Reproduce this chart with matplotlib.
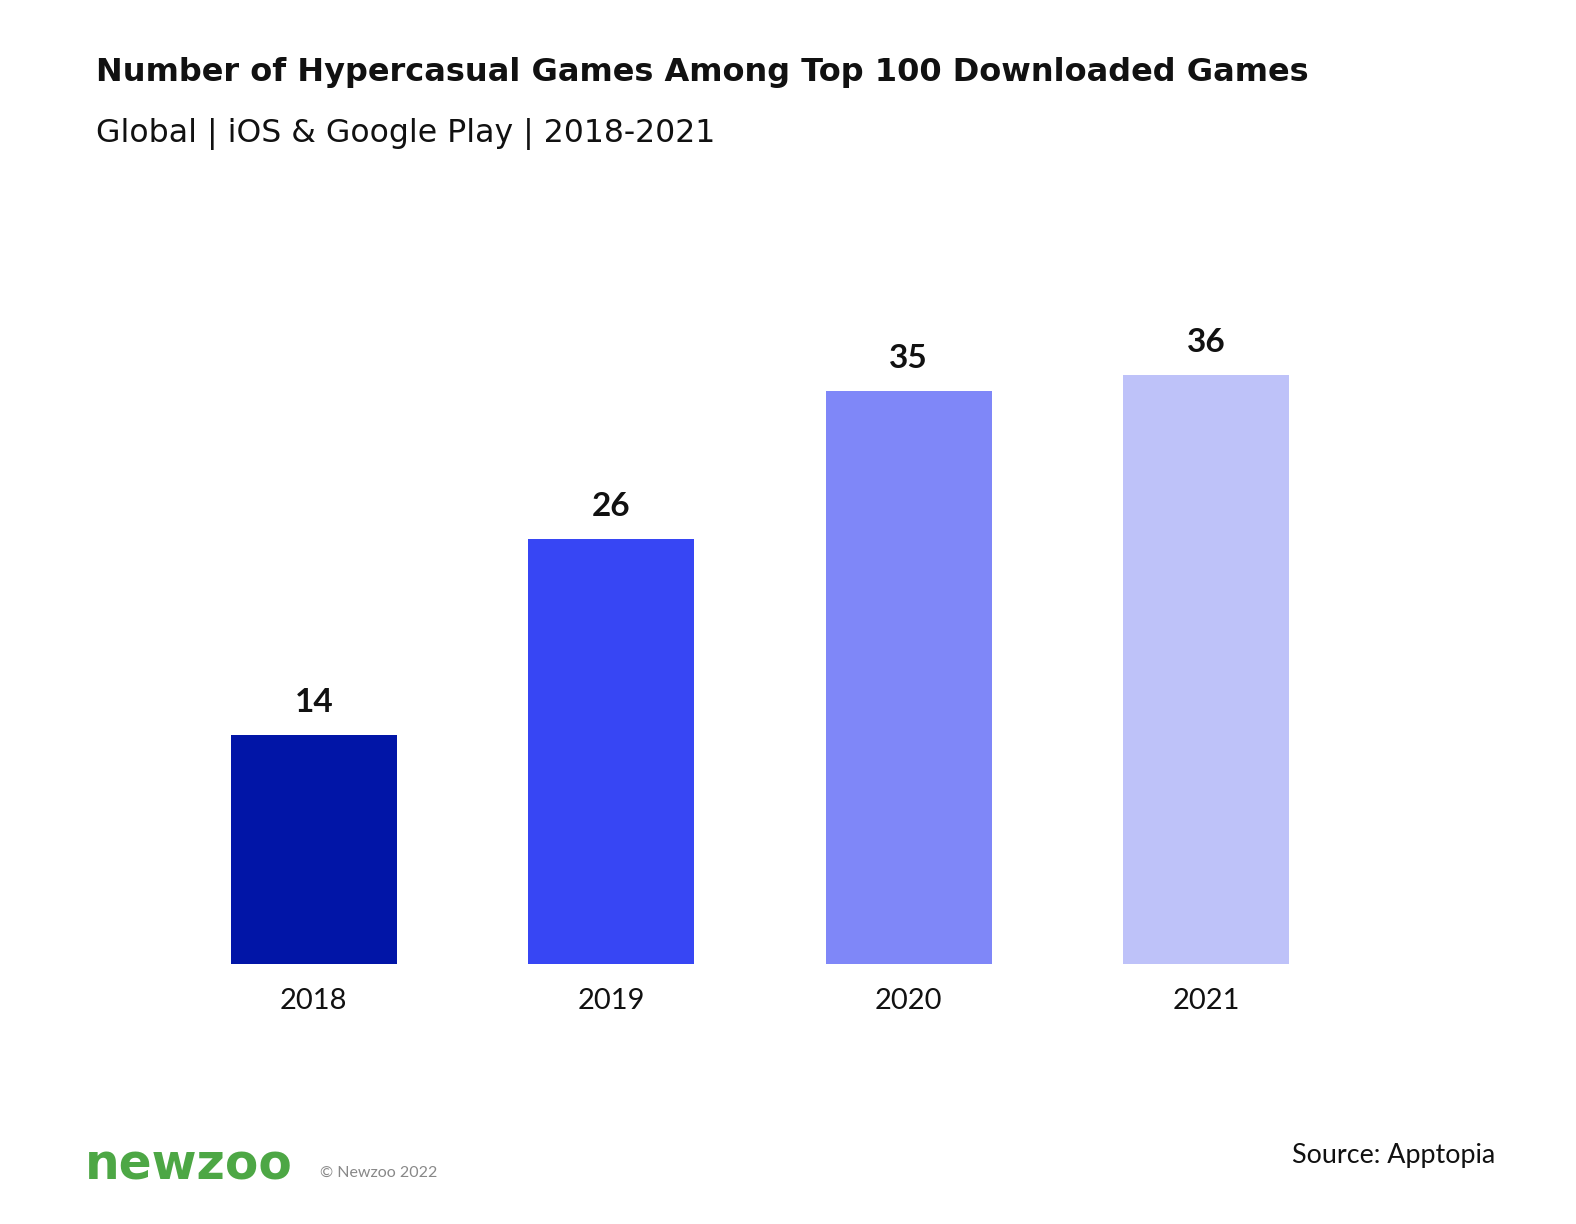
import matplotlib
matplotlib.use("Agg")
import matplotlib.pyplot as plt

years = ["2018", "2019", "2020", "2021"]
values = [14, 26, 35, 36]
colors = ["#0115A7", "#3746F4", "#7F87F8", "#BEC2F9"]

W, H = 1576, 1224
fig = plt.figure(figsize=(W / 100, H / 100), dpi=100)
FONT = "Lato"
WIDE = "DejaVu Sans"

def fx(px):
    return px / W

def fy(py):
    return 1 - py / H

ax = fig.add_axes([fx(165), fy(964), fx(1190), (964 - 309.6) / H])
x = range(len(years))
ax.bar(x, values, width=0.558, color=colors)
ax.set_xlim(-0.5, 3.5)
ax.set_ylim(0, 40)
for i, v in zip(x, values):
    ax.annotate(str(v), (i, v), xytext=(0, 18), textcoords="offset pixels",
                ha="center", va="bottom", fontsize=24, fontweight="bold",
                family=FONT, color="#111111")
ax.set_xticks(list(x))
ax.set_xticklabels(years, fontsize=21, family=FONT, color="#111111")
ax.tick_params(axis="x", length=0, pad=17)
ax.set_yticks([])
for s in ax.spines.values():
    s.set_visible(False)

fig.text(fx(96), fy(73), "Number of Hypercasual Games Among Top 100 Downloaded Games",
         fontsize=23, fontweight="bold", family=WIDE, color="#111111", va="center")
fig.text(fx(96), fy(134), "Global | iOS & Google Play | 2018-2021",
         fontsize=22.7, family=WIDE, color="#111111", va="center")
fig.text(fx(85), fy(1166), "newzoo", fontsize=35, fontweight="bold",
         family=WIDE, color="#4DA745", va="center")
fig.text(fx(320), fy(1173), "© Newzoo 2022", fontsize=11.5,
         family=FONT, color="#888888", va="center")
fig.text(fx(1495), fy(1155), "Source: Apptopia", fontsize=19.4,
         family=FONT, color="#111111", va="center", ha="right")

fig.savefig("out.png", dpi=100, facecolor="white")
